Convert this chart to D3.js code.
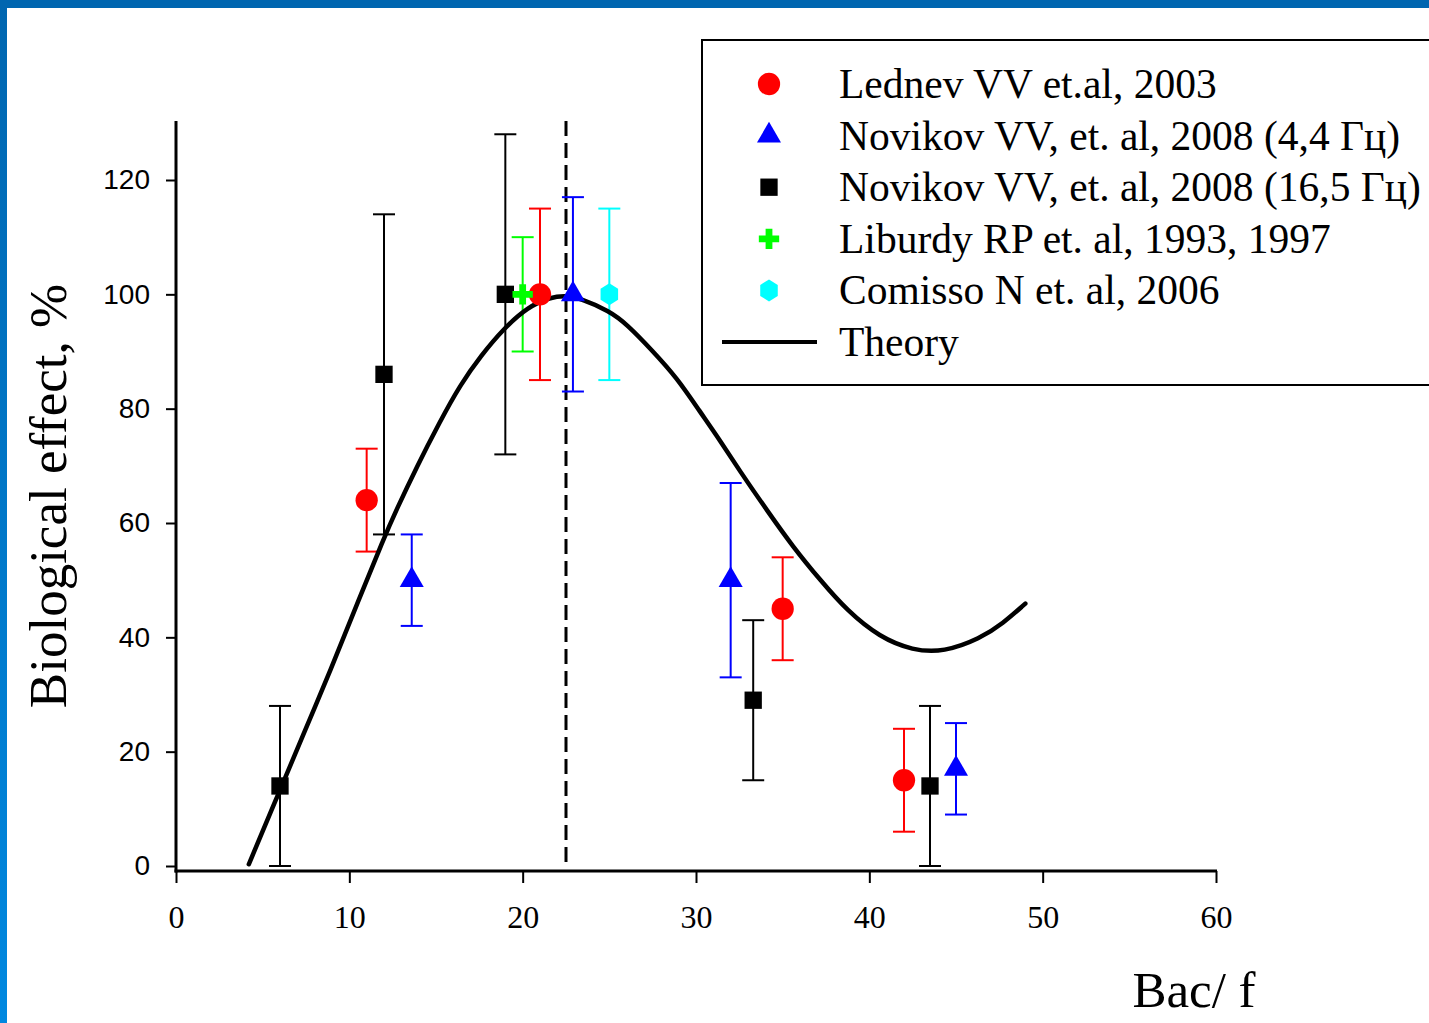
<!DOCTYPE html>
<meta charset="utf-8">
<script src="https://d3js.org/d3.v7.min.js"></script>
<style>
  body { margin: 0; background: #fff; }
  svg { display: block; }
</style>
<div id="my_dataviz"></div>
<script>

// ---- data ----
// Lednev VV et.al, 2003
var lednevX  = [11, 21, 35, 42];
var lednevY  = [64, 100, 45, 15];
var lednevLo = [55, 85, 36, 6];
var lednevHi = [73, 115, 54, 24];

// Novikov VV 2008 (4,4 Hz)
var nov44X  = [13.6, 22.9, 32, 45];
var nov44Y  = [50, 100, 50, 17];
var nov44Lo = [42, 83, 33, 9];
var nov44Hi = [58, 117, 67, 25];

// Novikov VV 2008 (16,5 Hz)
var nov165X  = [6, 12, 19, 33.3, 43.5];
var nov165Y  = [14, 86, 100, 29, 14];
var nov165Lo = [0, 58, 72, 15, 0];
var nov165Hi = [28, 114, 128, 43, 28];

// Liburdy RP
var liburdyX  = [20];
var liburdyY  = [100];
var liburdyLo = [90];
var liburdyHi = [110];

// Comisso N
var comissoX  = [25];
var comissoY  = [100];
var comissoLo = [85];
var comissoHi = [115];

// theory curve
var theoryX = [4.2, 6, 7.5, 8.9, 10.4, 12, 12.7, 13.9, 15.2, 16.4, 17.6, 18.9, 20.3, 21.6, 22.5, 23.3, 25, 26, 27.5, 28.9, 30.2, 31.4, 32.5, 34.1, 35.6, 37.2, 38.7, 40.6, 42.5, 44.3, 46.4, 47.7, 49];
var theoryY = [0.3, 13.3, 24.1, 34.1, 45.5, 57.4, 62.2, 69.9, 77.6, 84.2, 89.3, 94.0, 97.8, 99.5, 99.8, 99.3, 97.1, 94.8, 90.1, 85.4, 79.6, 74.4, 69.2, 62.2, 55.8, 49.9, 44.7, 40, 37.7, 37.4, 39.8, 42.4, 45.9];

var vlineX = 22.5;

var xTicks = [0, 10, 20, 30, 40, 50, 60];
var yTicks = [0, 20, 40, 60, 80, 100, 120];

var legendLabels = [
  "Lednev VV et.al, 2003",
  "Novikov VV, et. al, 2008 (4,4 Гц)",
  "Novikov VV, et. al, 2008 (16,5 Гц)",
  "Liburdy RP et. al, 1993, 1997",
  "Comisso N et. al, 2006",
  "Theory"
];

// ---- chart ----
var W = 1429, H = 1023;
var serif = "'Liberation Serif', 'Times New Roman', serif";
var sans = "'Liberation Sans', Arial, sans-serif";

var svg = d3.select("#my_dataviz")
  .append("svg")
    .attr("width", W)
    .attr("height", H);

// blue frame of the slide
var defs = svg.append("defs");
var grad = defs.append("linearGradient")
    .attr("id", "frameGrad")
    .attr("x1", 0).attr("y1", 0).attr("x2", 0).attr("y2", 1);
grad.append("stop").attr("offset", "0%").attr("stop-color", "#0066b0");
grad.append("stop").attr("offset", "100%").attr("stop-color", "#0088e0");

svg.append("rect").attr("x", 0).attr("y", 0).attr("width", 7).attr("height", H)
  .attr("fill", "url(#frameGrad)");
svg.append("rect").attr("x", 0).attr("y", 0).attr("width", W).attr("height", 8)
  .attr("fill", "#0066b0");

var x = d3.scaleLinear().domain([0, 60]).range([176, 1216]);
var y = d3.scaleLinear().domain([0, 120]).range([866, 180]);
var axisY = 871;

// X axis
var gx = svg.append("g")
    .attr("transform", "translate(0," + axisY + ")")
    .call(d3.axisBottom(x).tickValues(xTicks).tickSize(12).tickSizeOuter(0).tickPadding(22));
gx.select(".domain").remove();
gx.selectAll(".tick line").attr("stroke", "#000").attr("stroke-width", 2);
gx.selectAll(".tick text")
    .attr("font-family", serif)
    .attr("font-size", 32)
    .attr("fill", "#000");
gx.append("line")
    .attr("x1", x(0) - 1.5).attr("x2", x(60) + 1)
    .attr("stroke", "#000").attr("stroke-width", 3);

// Y axis
var gy = svg.append("g")
    .attr("transform", "translate(" + x(0) + ",0)")
    .call(d3.axisLeft(y).tickValues(yTicks).tickSize(10).tickSizeOuter(0).tickPadding(16));
gy.select(".domain").remove();
gy.selectAll(".tick line").attr("stroke", "#000").attr("stroke-width", 2);
gy.selectAll(".tick text")
    .attr("font-family", sans)
    .attr("font-size", 28)
    .attr("fill", "#000");
gy.append("line")
    .attr("y1", y(130.3)).attr("y2", axisY + 1.5)
    .attr("stroke", "#000").attr("stroke-width", 3);

// axis titles
svg.append("text")
    .attr("transform", "translate(66," + 496 + ") rotate(-90)")
    .attr("text-anchor", "middle")
    .attr("font-family", serif)
    .attr("font-size", 53)
    .text("Biological effect, %");

svg.append("text")
    .attr("x", 1194).attr("y", 1007)
    .attr("text-anchor", "middle")
    .attr("font-family", serif)
    .attr("font-size", 51)
    .text("Bac/ f");

// dashed vertical line
svg.append("line")
    .attr("x1", x(vlineX)).attr("x2", x(vlineX))
    .attr("y1", y(130.3)).attr("y2", y(0))
    .attr("stroke", "#000").attr("stroke-width", 3)
    .attr("stroke-dasharray", "15,7");

// series
function rows(xs, ys, lo, hi) {
  return xs.map(function(d, i) { return {x: d, y: ys[i], lo: lo[i], hi: hi[i]}; });
}

function hexPath(r) {
  var p = [];
  for (var i = 0; i < 6; i++) {
    var a = Math.PI / 3 * i - Math.PI / 2;
    p.push([r * 0.92 * Math.cos(a), r * Math.sin(a)]);
  }
  return "M" + p.join("L") + "Z";
}

var series = [
  {name: legendLabels[0], color: "#ff0000", data: rows(lednevX, lednevY, lednevLo, lednevHi),
   shape: d3.symbol().type(d3.symbolCircle).size(390)()},
  {name: legendLabels[1], color: "#0000ff", data: rows(nov44X, nov44Y, nov44Lo, nov44Hi),
   shape: d3.symbol().type(d3.symbolTriangle).size(250)()},
  {name: legendLabels[2], color: "#000000", data: rows(nov165X, nov165Y, nov165Lo, nov165Hi),
   shape: d3.symbol().type(d3.symbolSquare).size(300)()},
  {name: legendLabels[3], color: "#00ff00", data: rows(liburdyX, liburdyY, liburdyLo, liburdyHi),
   shape: d3.symbol().type(d3.symbolCross).size(230)()},
  {name: legendLabels[4], color: "#00ffff", data: rows(comissoX, comissoY, comissoLo, comissoHi),
   shape: hexPath(11)}
];

var capW = 11;

// error bars
series.forEach(function(s) {
  var g = svg.append("g").attr("stroke", s.color).attr("stroke-width", 2).attr("fill", "none");
  g.selectAll(".v").data(s.data).enter().append("line")
    .attr("x1", function(d) { return x(d.x); })
    .attr("x2", function(d) { return x(d.x); })
    .attr("y1", function(d) { return y(d.lo); })
    .attr("y2", function(d) { return y(d.hi); });
  g.selectAll(".hi").data(s.data).enter().append("line")
    .attr("x1", function(d) { return x(d.x) - capW; })
    .attr("x2", function(d) { return x(d.x) + capW; })
    .attr("y1", function(d) { return y(d.hi); })
    .attr("y2", function(d) { return y(d.hi); });
  g.selectAll(".lo").data(s.data).enter().append("line")
    .attr("x1", function(d) { return x(d.x) - capW; })
    .attr("x2", function(d) { return x(d.x) + capW; })
    .attr("y1", function(d) { return y(d.lo); })
    .attr("y2", function(d) { return y(d.lo); });
});

// theory curve
var theory = theoryX.map(function(d, i) { return [d, theoryY[i]]; });
svg.append("path")
    .datum(theory)
    .attr("fill", "none")
    .attr("stroke", "#000")
    .attr("stroke-width", 4.5)
    .attr("stroke-linecap", "round")
    .attr("d", d3.line()
      .x(function(d) { return x(d[0]); })
      .y(function(d) { return y(d[1]); })
      .curve(d3.curveBasis));

// markers
series.forEach(function(s) {
  svg.append("g").selectAll("path").data(s.data).enter().append("path")
    .attr("d", s.shape)
    .attr("fill", s.color)
    .attr("transform", function(d) { return "translate(" + x(d.x) + "," + y(d.y) + ")"; });
});

// legend
var lg = svg.append("g");
lg.append("rect")
    .attr("x", 702).attr("y", 40)
    .attr("width", 760).attr("height", 345)
    .attr("fill", "#fff").attr("stroke", "#000").attr("stroke-width", 2);

var rowY = d3.scaleLinear().domain([0, 5]).range([84, 342]);

series.forEach(function(s, i) {
  lg.append("path")
    .attr("d", s.shape)
    .attr("fill", s.color)
    .attr("transform", "translate(769," + rowY(i) + ")");
});
lg.append("line")
    .attr("x1", 722).attr("x2", 817)
    .attr("y1", rowY(5)).attr("y2", rowY(5))
    .attr("stroke", "#000").attr("stroke-width", 4);

lg.selectAll("text.lab").data(legendLabels).enter().append("text")
    .attr("x", 839)
    .attr("y", function(d, i) { return rowY(i) + 14; })
    .attr("font-family", serif)
    .attr("font-size", 41.5)
    .attr("fill", "#000")
    .text(function(d) { return d; });

</script>
